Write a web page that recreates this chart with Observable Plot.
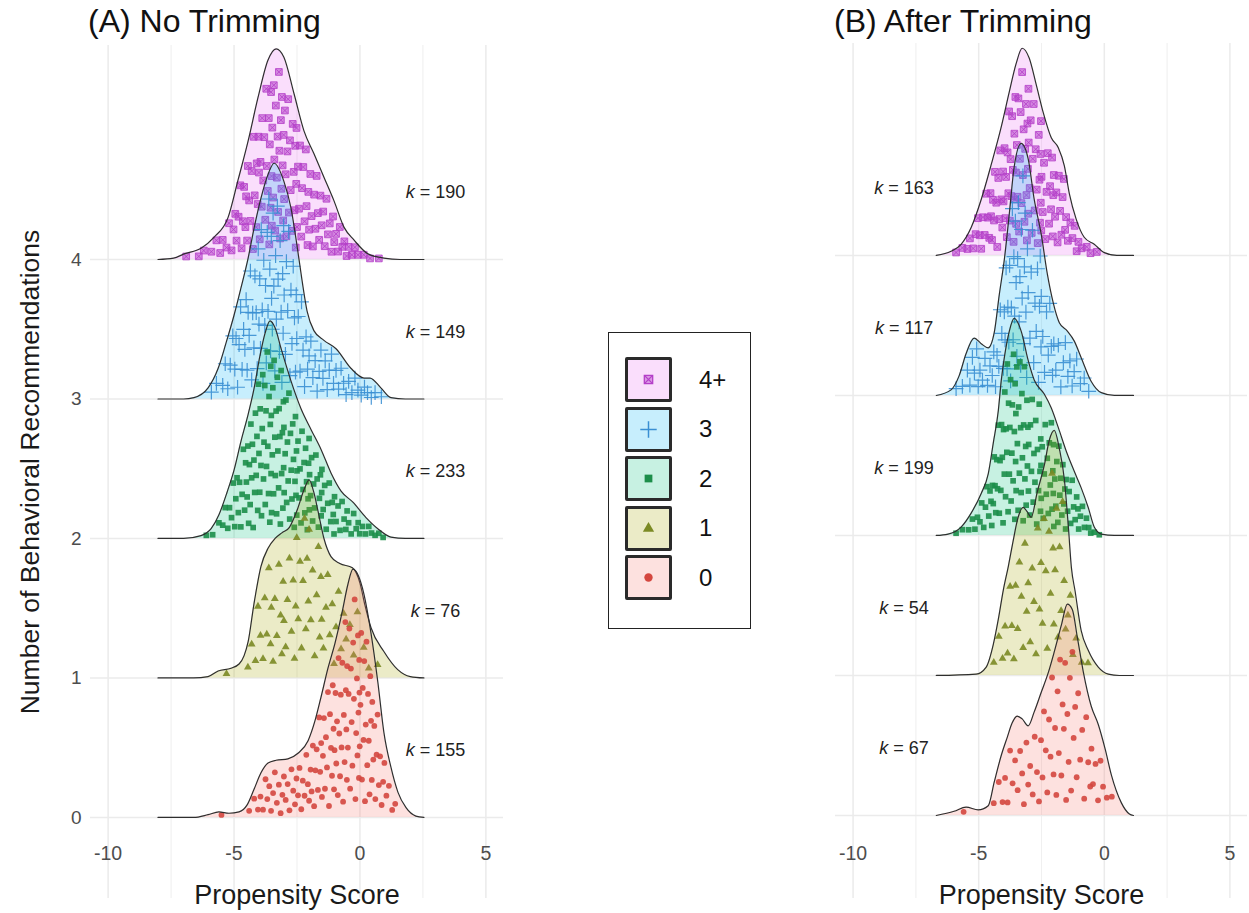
<!DOCTYPE html>
<html>
<head>
<meta charset="utf-8">
<script src="https://cdn.jsdelivr.net/npm/d3@7"></script>
<script src="https://cdn.jsdelivr.net/npm/@observablehq/plot@0.6"></script>
<style>
  html, body { margin: 0; padding: 0; background: #fff; }
  body { font-family: "Liberation Sans", Arial, Helvetica, sans-serif; }
  #wrap { position: relative; width: 1249px; height: 913px; overflow: hidden; background: #fff; }
  .panel { position: absolute; top: 0; }
  .title { position: absolute; top: 6px; font-size: 32px; line-height: 31px; color: #111; white-space: nowrap; }
  #legend { position: absolute; left: 608px; top: 332px; width: 141px; height: 295px; border: 1.5px solid #222; box-sizing: content-box; }
  .item { position: absolute; left: 16px; height: 45px; display: flex; align-items: center; }
  .key { width: 41px; height: 39px; border: 3px solid #2a2a2a; border-radius: 2px; }
  .lab { margin-left: 27px; font-size: 24px; color: #111; }
</style>
</head>
<body>
<div id="wrap">
  <div class="title" style="left:88px">(A) No Trimming</div>
  <div class="title" style="left:834px">(B) After Trimming</div>
  <div id="panelA" class="panel" style="left:0px"></div>
  <div id="panelB" class="panel" style="left:800px"></div>
  <div id="legend"></div>
</div>
<script>
// ---------------- data ----------------
const groups = [0, 1, 2, 3, 4];
const groupLabels = ["0", "1", "2", "3", "4+"];
const fillColors = ["#F8766D", "#A3A500", "#00BF7D", "#00B0F6", "#E76BF3"];
const pointColors = ["#d4473f", "#7b8a24", "#1c8e4a", "#3a8fd3", "#b43fc8"];
const xTicks = [-10, -5, 0, 5];
const xMinor = [-7.5, -2.5, 2.5];
const yTicks = [0, 1, 2, 3, 4];
const kA = [155, 76, 233, 149, 190];
const kB = [67, 54, 199, 117, 163];

// ridge outlines: [propensity score, ridge height above the group's baseline]
const ridgeA0 = [[-8.02,0],[-6.6,0],[-6.03,0.02],[-5.6,0.04],[-5.2,0.03],[-4.8,0.04],[-4.48,0.09],[-4.21,0.2],[-3.93,0.32],[-3.65,0.39],[-3.33,0.41],[-2.86,0.42],[-2.46,0.46],[-2.06,0.55],[-1.79,0.69],[-1.55,0.86],[-1.27,1.07],[-0.99,1.25],[-0.71,1.47],[-0.48,1.67],[-0.28,1.78],[-0.08,1.74],[0.16,1.6],[0.44,1.32],[0.71,0.97],[0.95,0.61],[1.23,0.36],[1.51,0.18],[1.83,0.07],[2.22,0.01],[2.54,0]];
const ridgeA1 = [[-8.02,0],[-6.6,0],[-6.03,0.01],[-5.63,0.05],[-5.12,0.07],[-4.8,0.1],[-4.6,0.16],[-4.44,0.26],[-4.21,0.53],[-3.93,0.8],[-3.65,0.93],[-3.37,1.0],[-3.1,1.04],[-2.8,1.08],[-2.5,1.2],[-2.2,1.36],[-2.02,1.42],[-1.83,1.33],[-1.67,1.2],[-1.43,1.0],[-1.15,0.87],[-0.8,0.82],[-0.3,0.79],[0.0,0.68],[0.2,0.52],[0.44,0.36],[0.95,0.19],[1.5,0.06],[2.0,0.01],[2.54,0]];
const ridgeA2 = [[-8.02,0],[-7.0,0],[-6.31,0.02],[-5.91,0.07],[-5.6,0.17],[-5.28,0.33],[-5.0,0.49],[-4.72,0.7],[-4.44,0.89],[-4.21,1.07],[-3.97,1.31],[-3.77,1.47],[-3.57,1.56],[-3.37,1.51],[-3.13,1.36],[-2.74,1.13],[-2.34,0.93],[-1.94,0.78],[-1.55,0.64],[-1.15,0.47],[-0.75,0.34],[-0.28,0.26],[0.24,0.15],[0.71,0.07],[1.23,0.01],[1.8,0],[2.54,0]];
const ridgeA3 = [[-8.02,0],[-7.0,0],[-6.59,0.01],[-6.03,0.08],[-5.63,0.22],[-5.32,0.4],[-5.0,0.6],[-4.72,0.8],[-4.44,1.01],[-4.21,1.22],[-3.93,1.44],[-3.65,1.61],[-3.41,1.69],[-3.02,1.56],[-2.74,1.37],[-2.5,1.1],[-2.3,0.85],[-2.1,0.63],[-1.83,0.49],[-1.43,0.42],[-0.95,0.36],[-0.36,0.22],[0.16,0.15],[0.4,0.15],[0.83,0.08],[1.23,0.01],[1.8,0],[2.54,0]];
const ridgeA4 = [[-8.02,0],[-7.4,0.01],[-6.98,0.04],[-6.31,0.08],[-5.79,0.16],[-5.24,0.3],[-4.84,0.57],[-4.44,0.85],[-4.05,1.16],[-3.65,1.43],[-3.33,1.51],[-3.02,1.45],[-2.62,1.19],[-2.22,0.92],[-1.83,0.76],[-1.43,0.59],[-1.03,0.42],[-0.63,0.23],[-0.24,0.14],[0.32,0.04],[0.95,0.01],[1.6,0],[2.54,0]];

const ridgeB0 = [[-6.69,0],[-5.98,0.03],[-5.5,0.06],[-5.02,0.04],[-4.62,0.07],[-4.38,0.24],[-4.1,0.43],[-3.86,0.56],[-3.67,0.66],[-3.47,0.71],[-3.27,0.69],[-3.03,0.64],[-2.79,0.74],[-2.51,0.88],[-2.23,1.02],[-1.99,1.17],[-1.71,1.36],[-1.47,1.51],[-1.27,1.47],[-1.08,1.28],[-0.84,1.03],[-0.52,0.78],[-0.24,0.65],[0.04,0.47],[0.28,0.29],[0.68,0.09],[1.0,0.01],[1.16,0]];
const ridgeB1 = [[-6.69,0],[-5.1,0.01],[-4.7,0.06],[-4.42,0.22],[-4.22,0.4],[-4.02,0.61],[-3.82,0.78],[-3.63,0.96],[-3.43,1.13],[-3.23,1.2],[-3.07,1.17],[-2.91,1.13],[-2.67,1.31],[-2.39,1.5],[-2.19,1.68],[-1.99,1.75],[-1.79,1.62],[-1.59,1.4],[-1.43,1.06],[-1.31,0.77],[-1.16,0.6],[-0.92,0.32],[-0.64,0.18],[-0.24,0.06],[0.16,0.01],[0.6,0],[1.16,0]];
const ridgeB2 = [[-6.69,0],[-6.22,0.01],[-5.7,0.06],[-5.3,0.16],[-4.9,0.3],[-4.62,0.44],[-4.42,0.66],[-4.22,0.89],[-4.1,1.11],[-3.98,1.27],[-3.78,1.46],[-3.59,1.55],[-3.31,1.46],[-3.03,1.25],[-2.79,1.11],[-2.39,1.01],[-2.11,0.91],[-1.83,0.77],[-1.51,0.6],[-1.2,0.46],[-0.92,0.34],[-0.64,0.2],[-0.4,0.06],[-0.12,0.01],[0.4,0],[1.16,0]];
const ridgeB3 = [[-6.69,0],[-6.1,0.04],[-5.78,0.14],[-5.5,0.3],[-5.18,0.41],[-4.9,0.37],[-4.62,0.34],[-4.38,0.45],[-4.18,0.72],[-3.98,0.97],[-3.78,1.3],[-3.59,1.63],[-3.31,1.8],[-3.03,1.69],[-2.79,1.4],[-2.51,1.15],[-2.27,0.87],[-2.03,0.66],[-1.79,0.52],[-1.47,0.46],[-1.2,0.39],[-0.92,0.27],[-0.52,0.1],[-0.12,0.02],[0.4,0],[1.16,0]];
const ridgeB4 = [[-6.69,0],[-6.1,0.03],[-5.7,0.08],[-5.3,0.2],[-4.9,0.4],[-4.5,0.65],[-4.1,0.92],[-3.78,1.17],[-3.51,1.37],[-3.27,1.48],[-2.99,1.41],[-2.71,1.22],[-2.43,1.02],[-2.11,0.84],[-1.83,0.77],[-1.59,0.64],[-1.39,0.44],[-1.12,0.26],[-0.8,0.13],[-0.4,0.08],[0.0,0.02],[0.5,0],[1.16,0]];

// jittered observations: [propensity score, relative height inside the ridge]
const ptsA4 = [[-6.9,.5],[-6.4,.3],[-6.2,.7],[-5.9,.4],[-5.7,.8],[-5.55,.2],[-5.45,.6],[-5.3,.3],[-5.2,.85],[-5.1,.15],[-5.02,.5],[-4.95,.7],[-4.9,.25],[-4.82,.55],[-4.75,.9],[-4.7,.1],[-4.65,.4],[-4.6,.75],[-4.55,.3],[-4.52,.6],[-4.48,.15],[-4.45,.85],[-4.4,.5],[-4.35,.3],[-4.3,.7],[-4.25,.05],[-4.22,.92],[-4.18,.45],[-4.12,.2],[-4.1,.65],[-4.06,.35],[-4.03,.8],[-4.01,.55],[-3.98,.1],[-3.95,.6],[-3.9,.3],[-3.88,.85],[-3.84,.45],[-3.8,.7],[-3.76,.2],[-3.72,.95],[-3.7,.5],[-3.66,.35],[-3.62,.75],[-3.6,.05],[-3.58,.6],[-3.55,.25],[-3.53,.88],[-3.51,.42],[-3.5,.15],[-3.48,.68],[-3.45,.3],[-3.42,.9],[-3.4,.5],[-3.37,.12],[-3.34,.78],[-3.3,.4],[-3.27,.62],[-3.25,.22],[-3.22,.97],[-3.2,.55],[-3.17,.08],[-3.14,.72],[-3.12,.35],[-3.1,.85],[-3.07,.48],[-3.05,.18],[-3.03,.65],[-3.01,.3],[-2.98,.8],[-2.95,.45],[-2.92,.1],[-2.88,.6],[-2.85,.92],[-2.82,.25],[-2.78,.7],[-2.75,.4],[-2.7,.15],[-2.67,.85],[-2.63,.55],[-2.6,.3],[-2.57,.75],[-2.55,.05],[-2.53,.5],[-2.52,.9],[-2.5,.2],[-2.46,.65],[-2.42,.35],[-2.38,.85],[-2.33,.15],[-2.3,.55],[-2.25,.75],[-2.2,.3],[-2.15,.95],[-2.12,.45],[-2.08,.1],[-2.05,.6],[-2.02,.25],[-1.97,.8],[-1.92,.4],[-1.87,.1],[-1.82,.65],[-1.77,.3],[-1.72,.9],[-1.67,.5],[-1.62,.2],[-1.57,.75],[-1.52,.4],[-1.46,.6],[-1.4,.15],[-1.33,.85],[-1.27,.35],[-1.2,.55],[-1.13,.1],[-1.07,.75],[-1.02,.3],[-0.95,.5],[-0.87,.15],[-0.8,.8],[-0.7,.35],[-0.62,.6],[-0.53,.1],[-0.45,.5],[-0.32,.2],[-0.2,.7],[-0.08,.3],[0.15,.5],[0.4,.2],[0.75,.4]];
const ptsA3 = [[-5.9,.4],[-5.7,.6],[-5.45,.3],[-5.35,.7],[-5.25,.15],[-5.15,.5],[-5.05,.85],[-4.97,.35],[-4.92,.7],[-4.86,.1],[-4.8,.55],[-4.74,.9],[-4.68,.25],[-4.62,.6],[-4.57,.4],[-4.52,.8],[-4.48,.2],[-4.44,.65],[-4.4,.45],[-4.35,.9],[-4.3,.1],[-4.26,.55],[-4.21,.3],[-4.17,.75],[-4.12,.5],[-4.08,.15],[-4.04,.85],[-4.01,.4],[-3.98,.65],[-3.95,.25],[-3.92,.9],[-3.88,.45],[-3.85,.05],[-3.82,.7],[-3.78,.35],[-3.75,.55],[-3.72,.15],[-3.68,.8],[-3.65,.4],[-3.62,.95],[-3.58,.6],[-3.55,.2],[-3.52,.75],[-3.51,.45],[-3.48,.3],[-3.45,.85],[-3.42,.5],[-3.38,.1],[-3.35,.65],[-3.32,.35],[-3.28,.9],[-3.25,.55],[-3.2,.2],[-3.17,.75],[-3.13,.4],[-3.1,.05],[-3.07,.6],[-3.05,.3],[-3.03,.85],[-3.01,.5],[-2.96,.2],[-2.92,.7],[-2.87,.45],[-2.83,.9],[-2.78,.1],[-2.74,.6],[-2.7,.3],[-2.65,.8],[-2.6,.5],[-2.56,.15],[-2.53,.7],[-2.51,.4],[-2.45,.6],[-2.38,.2],[-2.32,.85],[-2.26,.45],[-2.2,.1],[-2.14,.7],[-2.08,.35],[-2.02,.55],[-1.95,.8],[-1.87,.3],[-1.78,.6],[-1.7,.1],[-1.62,.45],[-1.55,.85],[-1.47,.35],[-1.38,.7],[-1.3,.15],[-1.22,.55],[-1.13,.9],[-1.05,.3],[-0.95,.6],[-0.85,.2],[-0.75,.75],[-0.65,.4],[-0.55,.1],[-0.45,.55],[-0.32,.2],[-0.2,.8],[-0.08,.35],[0.05,.15],[0.18,.6],[0.3,.3],[0.45,.05],[0.6,.4],[0.85,.2]];
const ptsA2 = [[-6.1,.5],[-5.85,.3],[-5.6,.7],[-5.45,.4],[-5.35,.8],[-5.25,.2],[-5.18,.6],[-5.1,.35],[-5.03,.9],[-4.97,.15],[-4.93,.55],[-4.88,.8],[-4.83,.3],[-4.78,.65],[-4.73,.1],[-4.68,.45],[-4.63,.9],[-4.58,.25],[-4.54,.7],[-4.51,.5],[-4.48,.35],[-4.45,.8],[-4.42,.1],[-4.39,.6],[-4.36,.25],[-4.33,.9],[-4.3,.45],[-4.27,.7],[-4.24,.05],[-4.21,.55],[-4.18,.3],[-4.15,.85],[-4.12,.4],[-4.09,.65],[-4.06,.15],[-4.03,.95],[-4.01,.5],[-3.98,.25],[-3.96,.75],[-3.93,.4],[-3.91,.1],[-3.88,.6],[-3.86,.9],[-3.83,.3],[-3.81,.5],[-3.78,.8],[-3.76,.15],[-3.73,.65],[-3.71,.35],[-3.68,.95],[-3.66,.45],[-3.63,.2],[-3.61,.7],[-3.58,.05],[-3.56,.55],[-3.54,.85],[-3.53,.3],[-3.52,.6],[-3.51,.1],[-3.48,.4],[-3.46,.75],[-3.43,.2],[-3.41,.9],[-3.38,.5],[-3.36,.3],[-3.33,.65],[-3.31,.1],[-3.28,.85],[-3.26,.45],[-3.23,.25],[-3.21,.7],[-3.18,.55],[-3.16,.05],[-3.13,.95],[-3.11,.35],[-3.08,.6],[-3.06,.15],[-3.04,.8],[-3.03,.4],[-3.02,.65],[-3.01,.25],[-2.97,.5],[-2.94,.85],[-2.91,.2],[-2.88,.6],[-2.85,.35],[-2.82,.95],[-2.79,.1],[-2.76,.7],[-2.73,.45],[-2.7,.25],[-2.67,.8],[-2.64,.55],[-2.61,.05],[-2.58,.4],[-2.56,.9],[-2.54,.3],[-2.52,.65],[-2.51,.15],[-2.5,.5],[-2.46,.75],[-2.42,.3],[-2.38,.55],[-2.34,.1],[-2.3,.9],[-2.26,.4],[-2.22,.65],[-2.19,.2],[-2.16,.8],[-2.12,.5],[-2.09,.05],[-2.06,.35],[-2.04,.7],[-2.02,.95],[-2.01,.25],[-2.0,.6],[-1.96,.4],[-1.92,.8],[-1.88,.15],[-1.84,.55],[-1.8,.3],[-1.75,.9],[-1.7,.65],[-1.65,.1],[-1.61,.45],[-1.57,.75],[-1.54,.25],[-1.52,.55],[-1.51,.85],[-1.46,.35],[-1.4,.7],[-1.34,.1],[-1.28,.5],[-1.22,.85],[-1.16,.25],[-1.1,.6],[-1.06,.4],[-1.03,.05],[-1.01,.75],[-0.95,.3],[-0.87,.65],[-0.79,.15],[-0.71,.85],[-0.63,.45],[-0.56,.2],[-0.51,.7],[-0.45,.4],[-0.35,.1],[-0.25,.75],[-0.15,.3],[-0.07,.55],[-0.01,.15],[0.1,.5],[0.22,.2],[0.35,.7],[0.46,.35],[0.6,.25],[0.75,.6],[0.92,.15]];
const ptsA1 = [[-5.3,.5],[-4.45,.3],[-4.3,.6],[-4.15,.2],[-4.05,.8],[-3.95,.4],[-3.85,.15],[-3.78,.7],[-3.7,.35],[-3.62,.9],[-3.55,.25],[-3.52,.55],[-3.45,.1],[-3.38,.6],[-3.3,.3],[-3.22,.85],[-3.15,.45],[-3.1,.15],[-3.05,.7],[-3.02,.4],[-2.95,.2],[-2.88,.55],[-2.8,.85],[-2.72,.3],[-2.65,.65],[-2.6,.1],[-2.55,.45],[-2.51,.9],[-2.45,.35],[-2.38,.7],[-2.32,.15],[-2.26,.55],[-2.2,.9],[-2.15,.25],[-2.1,.65],[-2.05,.4],[-2.02,.8],[-1.95,.3],[-1.88,.6],[-1.8,.1],[-1.72,.5],[-1.65,.85],[-1.6,.25],[-1.55,.7],[-1.52,.4],[-1.45,.2],[-1.35,.55],[-1.28,.85],[-1.2,.35],[-1.1,.65],[-1.03,.1],[-0.95,.45],[-0.85,.8],[-0.75,.25],[-0.65,.6],[-0.55,.35],[-0.4,.5],[-0.25,.2],[-0.1,.7],[0.15,.4],[0.35,.15],[0.7,.35]];
const ptsA0 = [[-5.5,.5],[-4.4,.4],[-4.2,.7],[-4.05,.2],[-3.95,.5],[-3.85,.15],[-3.75,.8],[-3.68,.35],[-3.6,.6],[-3.53,.1],[-3.45,.45],[-3.38,.85],[-3.3,.25],[-3.22,.6],[-3.15,.05],[-3.08,.4],[-3.02,.75],[-2.95,.3],[-2.87,.6],[-2.8,.1],[-2.72,.85],[-2.65,.45],[-2.58,.2],[-2.52,.65],[-2.46,.35],[-2.4,.8],[-2.33,.1],[-2.27,.55],[-2.2,.3],[-2.13,.9],[-2.07,.45],[-2.02,.2],[-1.96,.6],[-1.92,.3],[-1.87,.85],[-1.82,.1],[-1.77,.5],[-1.72,.7],[-1.67,.25],[-1.62,.95],[-1.58,.4],[-1.54,.65],[-1.51,.15],[-1.47,.5],[-1.43,.8],[-1.39,.2],[-1.35,.6],[-1.31,.35],[-1.27,.9],[-1.23,.05],[-1.19,.7],[-1.15,.45],[-1.11,.25],[-1.08,.85],[-1.05,.55],[-1.03,.15],[-1.01,.4],[-0.97,.75],[-0.94,.3],[-0.91,.55],[-0.88,.1],[-0.85,.9],[-0.82,.45],[-0.79,.2],[-0.76,.65],[-0.73,.35],[-0.7,.8],[-0.67,.05],[-0.64,.5],[-0.61,.25],[-0.58,.95],[-0.56,.6],[-0.54,.4],[-0.52,.15],[-0.51,.7],[-0.48,.3],[-0.45,.55],[-0.42,.85],[-0.39,.1],[-0.36,.65],[-0.33,.4],[-0.3,.2],[-0.27,.75],[-0.24,.5],[-0.21,.95],[-0.18,.05],[-0.15,.35],[-0.12,.6],[-0.1,.25],[-0.08,.8],[-0.06,.45],[-0.04,.15],[-0.03,.7],[-0.02,.55],[-0.01,.3],[0.02,.5],[0.05,.85],[0.08,.15],[0.11,.6],[0.14,.35],[0.17,.75],[0.2,.05],[0.23,.45],[0.26,.9],[0.29,.25],[0.32,.65],[0.35,.4],[0.38,.1],[0.41,.8],[0.44,.55],[0.47,.2],[0.49,.7],[0.53,.35],[0.57,.6],[0.61,.1],[0.66,.45],[0.7,.8],[0.75,.25],[0.8,.55],[0.86,.1],[0.92,.4],[0.97,.7],[1.05,.3],[1.15,.55],[1.28,.15],[1.4,.4]];

const ptsB4 = [[-5.9,.4],[-5.65,.6],[-5.45,.3],[-5.35,.7],[-5.22,.2],[-5.12,.55],[-5.03,.85],[-4.96,.4],[-4.9,.1],[-4.83,.65],[-4.76,.3],[-4.7,.9],[-4.64,.5],[-4.58,.2],[-4.53,.75],[-4.51,.45],[-4.47,.15],[-4.43,.6],[-4.39,.35],[-4.35,.85],[-4.3,.5],[-4.26,.05],[-4.22,.7],[-4.18,.3],[-4.14,.9],[-4.1,.45],[-4.06,.2],[-4.03,.65],[-4.01,.4],[-3.97,.8],[-3.94,.25],[-3.91,.55],[-3.88,.1],[-3.85,.7],[-3.82,.4],[-3.79,.95],[-3.76,.2],[-3.73,.6],[-3.7,.35],[-3.67,.85],[-3.64,.5],[-3.61,.05],[-3.58,.7],[-3.56,.3],[-3.54,.9],[-3.52,.45],[-3.51,.15],[-3.48,.6],[-3.45,.3],[-3.42,.85],[-3.39,.1],[-3.36,.5],[-3.33,.75],[-3.3,.25],[-3.27,.95],[-3.24,.4],[-3.21,.65],[-3.18,.15],[-3.15,.55],[-3.12,.8],[-3.1,.3],[-3.08,.05],[-3.06,.7],[-3.04,.45],[-3.03,.2],[-3.02,.9],[-3.01,.6],[-2.97,.35],[-2.93,.75],[-2.89,.1],[-2.85,.55],[-2.81,.9],[-2.77,.25],[-2.73,.65],[-2.69,.4],[-2.65,.05],[-2.61,.8],[-2.58,.5],[-2.56,.2],[-2.54,.7],[-2.53,.35],[-2.52,.95],[-2.51,.15],[-2.5,.55],[-2.45,.3],[-2.4,.7],[-2.35,.1],[-2.3,.5],[-2.25,.85],[-2.2,.25],[-2.16,.6],[-2.12,.4],[-2.08,.9],[-2.05,.15],[-2.03,.55],[-2.01,.75],[-1.96,.35],[-1.91,.6],[-1.86,.1],[-1.81,.8],[-1.76,.45],[-1.71,.2],[-1.66,.65],[-1.61,.9],[-1.56,.3],[-1.52,.5],[-1.45,.2],[-1.35,.6],[-1.27,.35],[-1.18,.75],[-1.1,.1],[-1.03,.45],[-0.9,.3],[-0.7,.55],[-0.55,.15],[-0.3,.4]];
const ptsB3 = [[-5.9,.5],[-5.65,.3],[-5.45,.6],[-5.35,.2],[-5.25,.75],[-5.17,.4],[-5.08,.9],[-5.02,.15],[-4.95,.5],[-4.85,.3],[-4.75,.8],[-4.65,.2],[-4.55,.6],[-4.46,.35],[-4.4,.75],[-4.33,.1],[-4.27,.5],[-4.2,.3],[-4.14,.85],[-4.08,.55],[-4.02,.2],[-3.98,.65],[-3.95,.4],[-3.91,.9],[-3.87,.15],[-3.84,.55],[-3.8,.3],[-3.77,.75],[-3.73,.05],[-3.7,.45],[-3.66,.95],[-3.63,.25],[-3.6,.65],[-3.57,.35],[-3.54,.8],[-3.51,.5],[-3.48,.15],[-3.45,.6],[-3.42,.85],[-3.39,.3],[-3.36,.5],[-3.33,.1],[-3.3,.7],[-3.27,.4],[-3.24,.95],[-3.21,.2],[-3.18,.55],[-3.15,.8],[-3.12,.35],[-3.09,.05],[-3.06,.65],[-3.03,.45],[-2.96,.25],[-2.91,.6],[-2.86,.85],[-2.81,.15],[-2.76,.5],[-2.71,.35],[-2.66,.75],[-2.62,.05],[-2.58,.55],[-2.55,.9],[-2.52,.3],[-2.51,.65],[-2.45,.4],[-2.38,.15],[-2.3,.7],[-2.23,.35],[-2.17,.9],[-2.11,.5],[-2.06,.2],[-2.01,.6],[-1.93,.3],[-1.83,.7],[-1.73,.1],[-1.63,.5],[-1.55,.85],[-1.45,.3],[-1.37,.6],[-1.28,.15],[-1.2,.45],[-1.1,.8],[-0.95,.3],[-0.8,.6],[-0.62,.2]];
const ptsB2 = [[-5.9,.4],[-5.65,.6],[-5.4,.3],[-5.25,.7],[-5.15,.2],[-5.05,.55],[-4.95,.35],[-4.88,.8],[-4.8,.15],[-4.73,.55],[-4.67,.9],[-4.6,.3],[-4.55,.65],[-4.51,.45],[-4.48,.1],[-4.45,.6],[-4.42,.35],[-4.38,.85],[-4.35,.5],[-4.32,.2],[-4.28,.7],[-4.25,.4],[-4.22,.95],[-4.18,.15],[-4.15,.55],[-4.12,.3],[-4.09,.75],[-4.06,.5],[-4.03,.05],[-4.01,.65],[-3.98,.35],[-3.96,.85],[-3.93,.2],[-3.91,.6],[-3.88,.45],[-3.86,.95],[-3.83,.1],[-3.81,.7],[-3.78,.3],[-3.76,.55],[-3.73,.8],[-3.71,.15],[-3.68,.4],[-3.66,.65],[-3.63,.25],[-3.61,.9],[-3.58,.5],[-3.56,.05],[-3.55,.75],[-3.53,.35],[-3.52,.6],[-3.51,.2],[-3.48,.85],[-3.46,.45],[-3.43,.1],[-3.41,.65],[-3.38,.3],[-3.36,.9],[-3.33,.55],[-3.31,.2],[-3.28,.75],[-3.26,.4],[-3.23,.05],[-3.21,.6],[-3.18,.95],[-3.16,.3],[-3.13,.5],[-3.11,.15],[-3.08,.8],[-3.06,.4],[-3.04,.65],[-3.02,.25],[-3.01,.55],[-2.97,.1],[-2.94,.7],[-2.9,.4],[-2.87,.9],[-2.83,.2],[-2.8,.55],[-2.76,.35],[-2.73,.8],[-2.69,.05],[-2.66,.6],[-2.62,.3],[-2.59,.95],[-2.56,.45],[-2.54,.15],[-2.53,.7],[-2.52,.5],[-2.51,.25],[-2.47,.65],[-2.43,.1],[-2.39,.45],[-2.35,.85],[-2.31,.3],[-2.27,.6],[-2.23,.15],[-2.19,.75],[-2.15,.4],[-2.11,.95],[-2.08,.2],[-2.05,.55],[-2.03,.35],[-2.02,.8],[-2.01,.05],[-1.97,.5],[-1.93,.25],[-1.89,.7],[-1.85,.1],[-1.81,.9],[-1.77,.4],[-1.73,.6],[-1.69,.2],[-1.65,.8],[-1.61,.35],[-1.57,.55],[-1.54,.05],[-1.52,.7],[-1.46,.3],[-1.4,.6],[-1.34,.15],[-1.28,.85],[-1.22,.45],[-1.16,.25],[-1.1,.7],[-1.05,.5],[-1.02,.1],[-0.95,.4],[-0.87,.7],[-0.79,.2],[-0.71,.55],[-0.62,.3],[-0.54,.1],[-0.4,.4],[-0.2,.2]];
const ptsB1 = [[-4.4,.4],[-4.2,.7],[-4.05,.2],[-3.95,.55],[-3.85,.2],[-3.75,.8],[-3.68,.4],[-3.6,.1],[-3.53,.65],[-3.45,.3],[-3.38,.75],[-3.3,.5],[-3.23,.15],[-3.16,.85],[-3.09,.4],[-3.03,.6],[-2.95,.2],[-2.87,.7],[-2.8,.45],[-2.72,.1],[-2.65,.85],[-2.58,.35],[-2.52,.6],[-2.46,.25],[-2.4,.8],[-2.33,.5],[-2.27,.1],[-2.2,.65],[-2.14,.35],[-2.08,.9],[-2.04,.55],[-2.01,.2],[-1.96,.45],[-1.9,.75],[-1.84,.15],[-1.78,.6],[-1.72,.3],[-1.66,.9],[-1.6,.5],[-1.54,.25],[-1.45,.4],[-1.35,.7],[-1.25,.2],[-1.12,.5],[-0.9,.3],[-0.65,.5]];
const ptsB0 = [[-5.6,.5],[-4.4,.4],[-4.2,.7],[-4.05,.2],[-3.95,.55],[-3.85,.15],[-3.75,.8],[-3.65,.35],[-3.55,.6],[-3.45,.25],[-3.35,.7],[-3.27,.45],[-3.2,.1],[-3.1,.85],[-3.03,.35],[-2.95,.55],[-2.85,.2],[-2.77,.8],[-2.68,.4],[-2.6,.1],[-2.52,.65],[-2.46,.3],[-2.4,.85],[-2.33,.5],[-2.27,.15],[-2.2,.7],[-2.14,.4],[-2.08,.95],[-2.02,.25],[-1.96,.55],[-1.91,.1],[-1.86,.75],[-1.81,.35],[-1.76,.9],[-1.71,.2],[-1.66,.6],[-1.61,.45],[-1.56,.8],[-1.52,.05],[-1.47,.5],[-1.42,.25],[-1.37,.7],[-1.32,.1],[-1.27,.85],[-1.22,.4],[-1.16,.6],[-1.1,.2],[-1.04,.75],[-0.96,.35],[-0.88,.6],[-0.8,.1],[-0.72,.8],[-0.64,.45],[-0.56,.25],[-0.51,.65],[-0.45,.3],[-0.35,.55],[-0.25,.15],[-0.15,.7],[-0.05,.4],[0.1,.3],[0.3,.5]];

// ---------------- drawing ----------------
const FONT = '"Liberation Sans", Arial, Helvetica, sans-serif';

function ridgeHeightAt(curve, x) {
  for (let i = 1; i < curve.length; i++) {
    if (x <= curve[i][0]) {
      const [x0, h0] = curve[i - 1], [x1, h1] = curve[i];
      return h0 + (h1 - h0) * (x - x0) / (x1 - x0);
    }
  }
  return 0;
}

function dotMarks(g, pts) {
  const c = pointColors[g];
  const base = {x: "x", y: "y"};
  if (g === 4) return [
    Plot.dot(pts, {...base, symbol: "square", r: 3.8, fill: c, fillOpacity: 0.55, stroke: c, strokeWidth: 1, strokeOpacity: 0.8}),
    Plot.dot(pts, {...base, symbol: "times", r: 2.6, stroke: c, strokeWidth: 0.9, strokeOpacity: 0.9})
  ];
  if (g === 3) return [Plot.dot(pts, {...base, symbol: "plus", r: 4.8, stroke: c, strokeWidth: 1.2, strokeOpacity: 0.9})];
  if (g === 2) return [Plot.dot(pts, {...base, symbol: "square", r: 3.2, fill: c, fillOpacity: 0.9})];
  if (g === 1) return [Plot.dot(pts, {...base, symbol: "triangle", r: 2.9, fill: c, fillOpacity: 0.9})];
  return [Plot.dot(pts, {...base, r: 2.9, fill: c, fillOpacity: 0.9})];
}

function buildPanel(cfg) {
  const marks = [
    Plot.ruleX(xMinor, {stroke: "#f0f0f0", strokeWidth: 1.1}),
    Plot.ruleX(xTicks, {stroke: "#ebebeb", strokeWidth: 1.5}),
    Plot.ruleY(yTicks, {stroke: "#ebebeb", strokeWidth: 1.5})
  ];
  for (const g of [4, 3, 2, 1, 0]) {
    const ridge = cfg.ridges[g];
    const curve = ridge.map(([x, h]) => ({x, y1: g, y2: g + h}));
    const pts = cfg.points[g].map(([x, u]) => ({x, y: g + (0.03 + 0.9 * u) * ridgeHeightAt(ridge, x)}));
    marks.push(Plot.areaY(curve, {x: "x", y1: "y1", y2: "y2", fill: fillColors[g], fillOpacity: 0.22, curve: "monotone-x"}));
    marks.push(...dotMarks(g, pts));
    marks.push(Plot.line(curve, {x: "x", y: "y2", stroke: "#2e2e2e", strokeWidth: 1.2, curve: "monotone-x"}));
  }
  marks.push(Plot.text(groups.map(g => ({g, k: cfg.k[g]})), {
    x: () => cfg.kx, y: d => d.g + 0.48, text: d => `k = ${d.k}`,
    fontSize: 18, fill: "#222"
  }));
  marks.push(Plot.axisX({ticks: xTicks, tickSize: 0, tickPadding: 0, dy: -52, fontSize: 19.5, color: "#4d4d4d", label: null, tickFormat: d => String(d)}));
  if (cfg.showY) {
    marks.push(Plot.axisY({ticks: yTicks, tickSize: 0, tickPadding: 9, fontSize: 19, color: "#4d4d4d", label: null, tickFormat: d => String(d)}));
    marks.push(Plot.text(["Number of Behavioral Recommendations"], {frameAnchor: "left", textAnchor: "middle", rotate: -90, dx: -60, fontSize: 26.5, fill: "#1a1a1a"}));
  }
  marks.push(Plot.text(["Propensity Score"], {frameAnchor: "bottom", dy: 5, fontSize: 27, fill: "#1a1a1a"}));

  const svg = Plot.plot({
    width: cfg.width, height: 913,
    marginTop: cfg.marginTop, marginBottom: 15, marginLeft: cfg.marginLeft, marginRight: cfg.marginRight,
    x: {domain: [-10.7, 5.7]},
    y: {domain: cfg.yDomain, axis: cfg.showY ? undefined : null},
    style: {fontFamily: FONT, background: "transparent", overflow: "visible"},
    marks
  });
  // italic "k" in the count labels
  d3.select(svg).selectAll("text").filter(function() { return /^k = /.test(this.textContent); }).each(function() {
    const rest = this.textContent.slice(1);
    this.textContent = "";
    d3.select(this).append("tspan").attr("font-style", "italic").text("k");
    d3.select(this).append("tspan").text(rest);
  });
  return svg;
}

document.getElementById("panelA").appendChild(buildPanel({
  ridges: [ridgeA0, ridgeA1, ridgeA2, ridgeA3, ridgeA4],
  points: [ptsA0, ptsA1, ptsA2, ptsA3, ptsA4],
  k: kA, kx: 3.0, showY: true,
  width: 520, marginLeft: 90, marginRight: 17, marginTop: 45, yDomain: [-0.581, 5.534]
}));
document.getElementById("panelB").appendChild(buildPanel({
  ridges: [ridgeB0, ridgeB1, ridgeB2, ridgeB3, ridgeB4],
  points: [ptsB0, ptsB1, ptsB2, ptsB3, ptsB4],
  k: kB, kx: -7.97, showY: false,
  width: 449, marginLeft: 35, marginRight: 2, marginTop: 43, yDomain: [-0.593, 5.514]
}));

// ---------------- legend ----------------
const legend = d3.select("#legend");
const order = [4, 3, 2, 1, 0];
order.forEach((g, i) => {
  const item = legend.append("div").attr("class", "item").style("top", (24 + i * 49.5) + "px");
  const key = item.append("div").attr("class", "key")
    .style("background", d3.color(fillColors[g]).copy({opacity: 0.22}).formatRgb());
  const s = key.append("svg").attr("width", 41).attr("height", 39);
  const gg = s.append("g").attr("transform", "translate(20.5,19.5)");
  const c = pointColors[g];
  if (g === 4) {
    gg.append("path").attr("d", d3.symbol(d3.symbolSquare, 70)()).attr("fill", c).attr("fill-opacity", 0.45).attr("stroke", c).attr("stroke-width", 1.3);
    gg.append("path").attr("d", d3.symbol(d3.symbolTimes, 40)()).attr("fill", "none").attr("stroke", c).attr("stroke-width", 1.2);
  } else if (g === 3) {
    gg.append("path").attr("d", d3.symbol(d3.symbolPlus, 90)()).attr("fill", "none").attr("stroke", c).attr("stroke-width", 1.5);
  } else if (g === 2) {
    gg.append("path").attr("d", d3.symbol(d3.symbolSquare, 60)()).attr("fill", c);
  } else if (g === 1) {
    gg.append("path").attr("d", d3.symbol(d3.symbolTriangle, 55)()).attr("fill", c);
  } else {
    gg.append("path").attr("d", d3.symbol(d3.symbolCircle, 55)()).attr("fill", c);
  }
  item.append("div").attr("class", "lab").text(groupLabels[g]);
});
</script>
</body>
</html>
